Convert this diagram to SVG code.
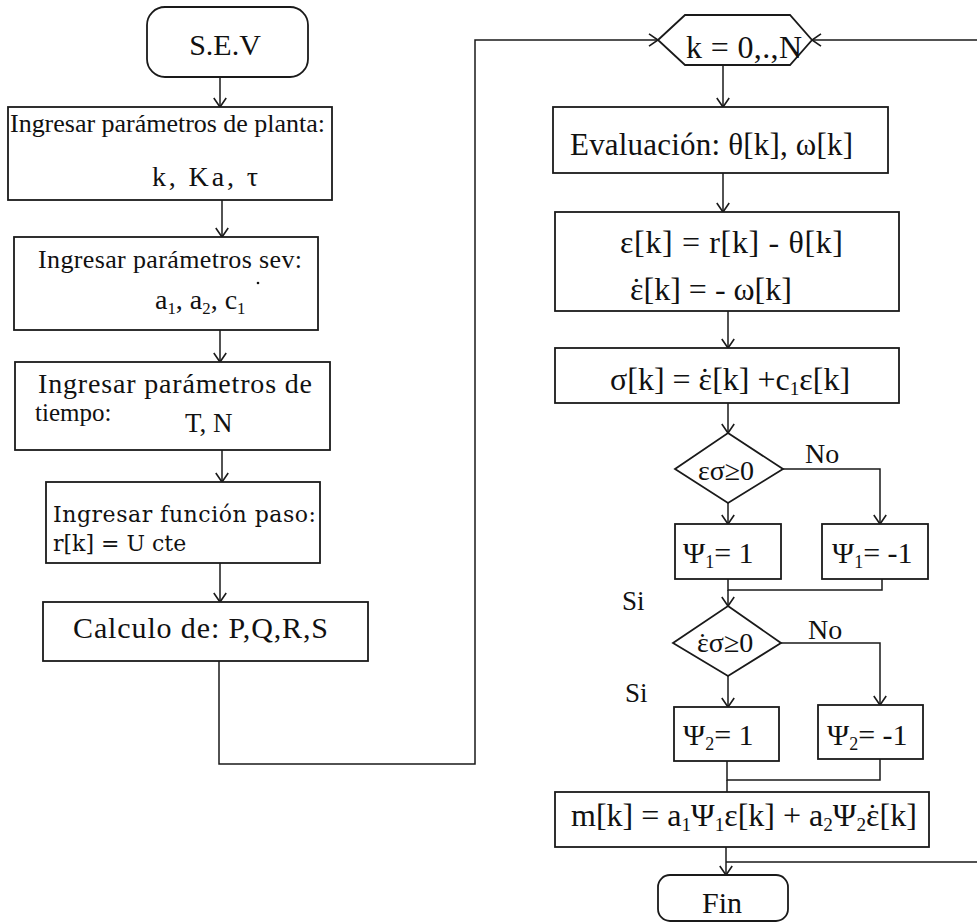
<svg xmlns="http://www.w3.org/2000/svg" width="977" height="924" viewBox="0 0 977 924">
<style>
svg{font-size:26px}
.n{fill:#fff;stroke:#1a1a1a;stroke-width:1.8}
.c{fill:none;stroke:#1a1a1a;stroke-width:1.5}
text{font-family:"Liberation Serif","Times New Roman",serif;fill:#111}
.b{font-family:"DejaVu Serif",serif}
.s{font-size:0.6em}
</style>
<defs>
<marker id="ah" markerUnits="userSpaceOnUse" markerWidth="14" markerHeight="14" viewBox="0 0 14 14" refX="11" refY="7" orient="auto">
<path d="M2,0.8 L11,7 L2,13.2" fill="none" stroke="#1a1a1a" stroke-width="1.6"/>
</marker>
</defs>

<g id="connectors">
<path class="c" d="M220,77 V107" marker-end="url(#ah)"/>
<path class="c" d="M222,200 V237" marker-end="url(#ah)"/>
<path class="c" d="M220,330 V362" marker-end="url(#ah)"/>
<path class="c" d="M222,450 V482" marker-end="url(#ah)"/>
<path class="c" d="M220,563 V602" marker-end="url(#ah)"/>
<path class="c" d="M219,661 V764 H475 V40 H658" marker-end="url(#ah)"/>
<path class="c" d="M726,862 H990 V40 H812" marker-end="url(#ah)"/>
<path class="c" d="M723,65 V107" marker-end="url(#ah)"/>
<path class="c" d="M723,173 V212" marker-end="url(#ah)"/>
<path class="c" d="M728,311 V348" marker-end="url(#ah)"/>
<path class="c" d="M728,403 V433" marker-end="url(#ah)"/>
<path class="c" d="M728,503 V524" marker-end="url(#ah)"/>
<path class="c" d="M783,469 H880 V524" marker-end="url(#ah)"/>
<path class="c" d="M728,579 V590 H882 V579"/>
<path class="c" d="M728,590 V606" marker-end="url(#ah)"/>
<path class="c" d="M728,676 V707" marker-end="url(#ah)"/>
<path class="c" d="M781,643 H880 V705" marker-end="url(#ah)"/>
<path class="c" d="M727,761 V780 H880 V759"/>
<path class="c" d="M727,780 V792"/>
<path class="c" d="M726,847 V875" marker-end="url(#ah)"/>
</g>

<g id="sev">
<rect class="n" x="147" y="7" width="161" height="70" rx="18"/>
<text x="225" y="55" text-anchor="middle" font-size="30">S.E.V</text>
</g>

<g id="planta">
<rect class="n" x="8" y="107" width="324" height="93"/>
<text x="10" y="132" textLength="315" lengthAdjust="spacing">Ingresar parámetros de planta:</text>
<text x="152" y="186" font-size="28" textLength="106" lengthAdjust="spacing">k, Ka, τ</text>
</g>

<g id="sevparams">
<rect class="n" x="14" y="237" width="304" height="93"/>
<text x="38" y="268" textLength="264" lengthAdjust="spacing">Ingresar parámetros sev:</text>
<text x="155" y="309" font-size="28">a<tspan class="s" dy="5">1</tspan><tspan dy="-5">, a</tspan><tspan class="s" dy="5">2</tspan><tspan dy="-5">, c</tspan><tspan class="s" dy="5">1</tspan></text>
<circle cx="258" cy="283" r="1.3" fill="#111"/>
</g>

<g id="tiempo">
<rect class="n" x="15" y="362" width="315" height="88"/>
<text x="38" y="393" font-size="28" textLength="274" lengthAdjust="spacing">Ingresar parámetros de</text>
<text x="35" y="421" font-size="25">tiempo:</text>
<text x="185" y="432" font-size="27">T, N</text>
</g>

<g id="paso">
<rect class="n" x="46" y="482" width="274" height="81"/>
<text class="b" x="53" y="522" font-size="22" textLength="263" lengthAdjust="spacing">Ingresar función paso:</text>
<text class="b" x="53" y="551" font-size="22">r[k] = U cte</text>
</g>

<g id="calculo">
<rect class="n" x="43" y="602" width="325" height="59"/>
<text x="73" y="638" font-size="30" textLength="255" lengthAdjust="spacing">Calculo de: P,Q,R,S</text>
</g>

<g id="loop">
<polygon class="n" points="658,40 685,15 790,15 812,40 790,65 685,65"/>
<text x="686" y="58" font-size="32" textLength="116" lengthAdjust="spacing">k = 0,.,N</text>
</g>

<g id="evaluacion">
<rect class="n" x="553" y="107" width="335" height="66"/>
<text x="570" y="155" font-size="31" textLength="283" lengthAdjust="spacing">Evaluación: θ[k], ω[k]</text>
</g>

<g id="error">
<rect class="n" x="555" y="212" width="344" height="99"/>
<text x="620" y="253" font-size="32" textLength="223" lengthAdjust="spacing">ε[k] = r[k] - θ[k]</text>
<text x="630" y="300" font-size="32">ε<tspan dx="-0.39em">˙</tspan><tspan dx="0.06em">[k] = - ω[k]</tspan></text>
</g>

<g id="sigma">
<rect class="n" x="555" y="348" width="344" height="55"/>
<text x="610" y="390" font-size="32">σ[k] = ε<tspan dx="-0.39em">˙</tspan><tspan dx="0.06em">[k] +c</tspan><tspan class="s" dy="5">1</tspan><tspan dy="-5">ε[k]</tspan></text>
</g>

<g id="cond1">
<polygon class="n" points="728,433 783,469 728,503 675,469"/>
<text x="726" y="480" text-anchor="middle" font-size="28">εσ≥0</text>
<text x="805" y="463" font-size="28">No</text>
</g>

<g id="psi1pos">
<rect class="n" x="675" y="524" width="106" height="55"/>
<text x="683" y="563" font-size="30">Ψ<tspan class="s" dy="5">1</tspan><tspan dy="-5">= 1</tspan></text>
</g>

<g id="psi1neg">
<rect class="n" x="822" y="524" width="106" height="55"/>
<text x="832" y="563" font-size="30">Ψ<tspan class="s" dy="5">1</tspan><tspan dy="-5">= -1</tspan></text>
</g>

<text x="622" y="610" font-size="27">Si</text>

<g id="cond2">
<polygon class="n" points="728,606 781,643 728,676 673,643"/>
<text x="697" y="652" font-size="28">ε<tspan dx="-0.39em">˙</tspan><tspan dx="0.06em">σ≥0</tspan></text>
<text x="808" y="639" font-size="28">No</text>
</g>

<text x="625" y="702" font-size="27">Si</text>

<g id="psi2pos">
<rect class="n" x="674" y="707" width="105" height="54"/>
<text x="683" y="745" font-size="30">Ψ<tspan class="s" dy="5">2</tspan><tspan dy="-5">= 1</tspan></text>
</g>

<g id="psi2neg">
<rect class="n" x="818" y="705" width="105" height="54"/>
<text x="827" y="745" font-size="30">Ψ<tspan class="s" dy="5">2</tspan><tspan dy="-5">= -1</tspan></text>
</g>

<g id="control">
<rect class="n" x="555" y="792" width="374" height="55"/>
<text x="571" y="826" font-size="32">m[k] = a<tspan class="s" dy="5">1</tspan><tspan dy="-5">Ψ</tspan><tspan class="s" dy="5">1</tspan><tspan dy="-5">ε[k] + a</tspan><tspan class="s" dy="5">2</tspan><tspan dy="-5">Ψ</tspan><tspan class="s" dy="5">2</tspan><tspan dy="-5">ε</tspan><tspan dx="-0.39em">˙</tspan><tspan dx="0.06em">[k]</tspan></text>
</g>

<g id="fin">
<rect class="n" x="658" y="875" width="130" height="46" rx="12"/>
<text x="722" y="913" text-anchor="middle" font-size="30">Fin</text>
</g>
</svg>
